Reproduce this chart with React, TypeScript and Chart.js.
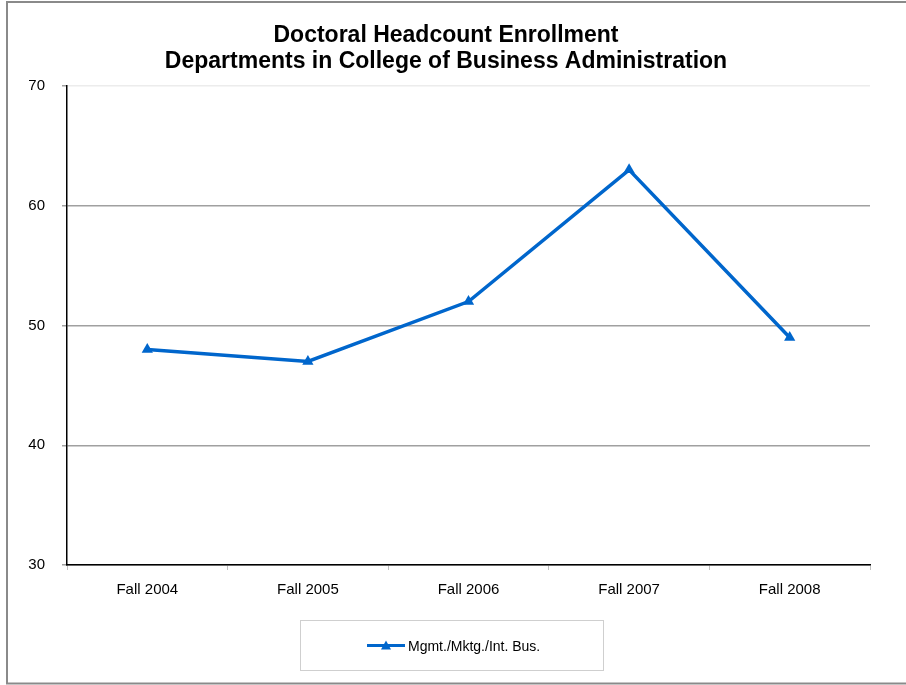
import React, { useEffect, useRef } from "react";
import { Chart, registerables } from "chart.js";

Chart.register(...registerables);

const categories = ["Fall 2004", "Fall 2005", "Fall 2006", "Fall 2007", "Fall 2008"];
const seriesLabel = "Mgmt./Mktg./Int. Bus.";
const seriesValues = [48, 47, 52, 63, 49];
const titleLines = ["Doctoral Headcount Enrollment", "Departments in College of Business Administration"];
const yMin = 30;
const yMax = 70;
const yStep = 10;

const FONT = "'Liberation Sans', Arial, sans-serif";
const LINE_COLOR = "#0066CC";

const decorPlugin = {
  id: "decor",
  afterDraw(chart: any) {
    const ctx = chart.ctx as CanvasRenderingContext2D;
    ctx.save();
    // outer border
    ctx.strokeStyle = "#8a8a8a";
    ctx.lineWidth = 2;
    ctx.strokeRect(7, 2, 910, 681.5);
    // title
    ctx.fillStyle = "#000";
    ctx.font = `bold 23px ${FONT}`;
    ctx.textAlign = "center";
    ctx.textBaseline = "middle";
    ctx.fillText(titleLines[0], 446, 36);
    ctx.fillText(titleLines[1], 446, 62);
    // legend box
    ctx.strokeStyle = "#cfcfcf";
    ctx.lineWidth = 1;
    ctx.strokeRect(300.5, 620.5, 303, 50);
    const ly = 645.5;
    ctx.strokeStyle = LINE_COLOR;
    ctx.lineWidth = 3;
    ctx.beginPath();
    ctx.moveTo(367, ly);
    ctx.lineTo(405, ly);
    ctx.stroke();
    ctx.fillStyle = LINE_COLOR;
    ctx.beginPath();
    ctx.moveTo(386, ly - 5);
    ctx.lineTo(391, ly + 4);
    ctx.lineTo(381, ly + 4);
    ctx.closePath();
    ctx.fill();
    ctx.fillStyle = "#000";
    ctx.font = `14px ${FONT}`;
    ctx.textAlign = "left";
    ctx.fillText(chart.data.datasets[0].label, 408, 647);
    ctx.restore();
  },
};

export default function App() {
  const ref = useRef<HTMLCanvasElement | null>(null);

  useEffect(() => {
    if (!ref.current) return;
    const chart = new Chart(ref.current, {
      type: "line",
      data: {
        labels: categories,
        datasets: [
          {
            label: seriesLabel,
            data: seriesValues,
            borderColor: LINE_COLOR,
            backgroundColor: LINE_COLOR,
            borderWidth: 3.5,
            pointStyle: "triangle",
            pointRadius: 6.5,
            pointBorderWidth: 0,
            pointBackgroundColor: LINE_COLOR,
            tension: 0,
          },
        ],
      },
      options: {
        animation: false,
        responsive: false,
        devicePixelRatio: 1,
        layout: { padding: { left: 0, right: 36, top: 86, bottom: 80 } },
        plugins: {
          legend: { display: false },
          title: { display: false },
          tooltip: { enabled: false },
        },
        scales: {
          x: {
            offset: true,
            grid: {
              offset: true,
              drawOnChartArea: false,
              drawTicks: true,
              tickLength: 5,
              tickColor: "#c0c0c0",
            },
            border: { color: "#000", width: 1.5 },
            ticks: {
              color: "#000",
              font: { family: FONT, size: 15 },
              padding: 11,
            },
            afterFit(scale: any) {
              scale.height = 40;
            },
          },
          y: {
            min: yMin,
            max: yMax,
            ticks: {
              stepSize: yStep,
              color: "#000",
              font: { family: FONT, size: 15 },
              padding: 17,
            },
            grid: {
              color: (c: any) => (c.tick && c.tick.value === yMax ? "#ececec" : "#a0a0a0"),
              lineWidth: 1.5,
              tickLength: 5,
              tickColor: "#a0a0a0",
            },
            border: { color: "#000", width: 1.5 },
            afterFit(scale: any) {
              scale.width = 67;
            },
          },
        },
      },
      plugins: [decorPlugin],
    });
    return () => chart.destroy();
  }, []);

  return (
    <div style={{ position: "absolute", left: 0, top: 0, width: 906, height: 685, background: "#fff" }}>
      <canvas ref={ref} width={906} height={685} style={{ display: "block", width: 906, height: 685 }} />
    </div>
  );
}
